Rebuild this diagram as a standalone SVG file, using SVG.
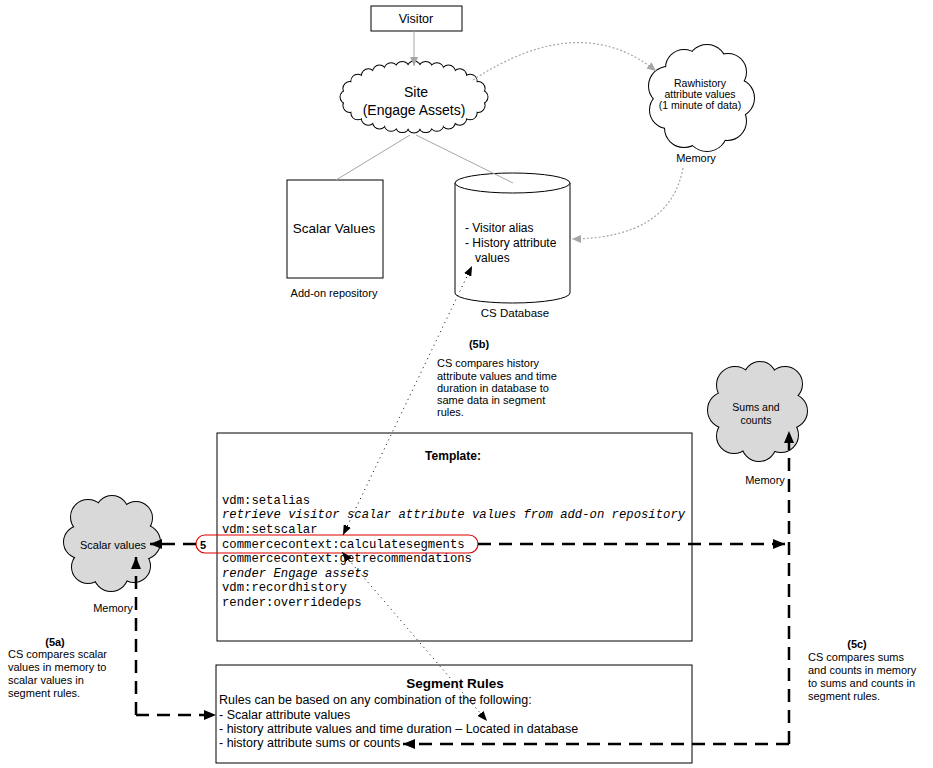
<svg xmlns="http://www.w3.org/2000/svg" xmlns:xlink="http://www.w3.org/1999/xlink" width="933" height="768" viewBox="0 0 933 768">
<style>
.t{font-family:"Liberation Sans",Arial,sans-serif;fill:#000}
.b{font-weight:bold}
.m{text-anchor:middle}
.code{font-family:"Liberation Mono","Courier New",monospace;font-size:12.25px;fill:#000}
.it{font-style:italic}
.box{fill:#fff;stroke:#000;stroke-width:1}
.cs{fill:none;stroke:#000;stroke-width:2}
.cf{fill:#fff;stroke:none}
.cg{fill:#d9d9d9;stroke:none}
.gray{fill:none;stroke:#a6a6a6;stroke-width:1}
.gdot{fill:none;stroke:#a6a6a6;stroke-width:1.2;stroke-dasharray:2 2}
.kdot{fill:none;stroke:#000;stroke-width:1;stroke-dasharray:1 4}
.dash{fill:none;stroke:#000;stroke-width:2.5;stroke-dasharray:13 8}
</style>
<defs>
<marker id="ah" viewBox="0 0 12 10" refX="12" refY="5" markerWidth="12" markerHeight="10" markerUnits="userSpaceOnUse" orient="auto"><path d="M0,0 L12,5 L0,10 z" fill="#000"/></marker>
<marker id="ahd" viewBox="0 0 10 8" refX="10" refY="4" markerWidth="10" markerHeight="8" markerUnits="userSpaceOnUse" orient="auto-start-reverse"><path d="M0,0 L10,4 L0,8 z" fill="#000"/></marker>
<marker id="ahg" viewBox="0 0 9 8" refX="9" refY="4" markerWidth="9" markerHeight="8" markerUnits="userSpaceOnUse" orient="auto"><path d="M0,0 L9,4 L0,8 z" fill="#a6a6a6"/></marker>
<g id="siteShape">
<ellipse cx="414" cy="97" rx="67" ry="29"/>
<circle cx="481" cy="97" r="6.5"/>
<circle cx="478.1" cy="105.5" r="6.5"/><circle cx="470.2" cy="112.8" r="6.5"/><circle cx="459.7" cy="118.2" r="6.5"/><circle cx="448.5" cy="121.9" r="6.5"/><circle cx="436.9" cy="124.3" r="6.5"/><circle cx="425.7" cy="125.6" r="6.5"/>
<circle cx="414" cy="126" r="6.5"/>
<circle cx="402.3" cy="125.6" r="6.5"/><circle cx="391.1" cy="124.3" r="6.5"/><circle cx="379.5" cy="121.9" r="6.5"/><circle cx="368.3" cy="118.2" r="6.5"/><circle cx="357.8" cy="112.8" r="6.5"/><circle cx="349.9" cy="105.5" r="6.5"/>
<circle cx="347" cy="97" r="6.5"/>
<circle cx="349.9" cy="88.5" r="6.5"/><circle cx="357.8" cy="81.2" r="6.5"/><circle cx="368.3" cy="75.8" r="6.5"/><circle cx="379.5" cy="72.1" r="6.5"/><circle cx="391.1" cy="69.7" r="6.5"/><circle cx="402.3" cy="68.4" r="6.5"/>
<circle cx="414" cy="68" r="6.5"/>
<circle cx="425.7" cy="68.4" r="6.5"/><circle cx="436.9" cy="69.7" r="6.5"/><circle cx="448.5" cy="72.1" r="6.5"/><circle cx="459.7" cy="75.8" r="6.5"/><circle cx="470.2" cy="81.2" r="6.5"/><circle cx="478.1" cy="88.5" r="6.5"/>
</g>
<g id="rawShape">
<circle cx="701" cy="98" r="36"/>
<circle cx="735" cy="98" r="19"/><circle cx="727" cy="121" r="19"/><circle cx="707" cy="131" r="20"/><circle cx="684" cy="128" r="19"/><circle cx="668" cy="110" r="18"/><circle cx="668" cy="86" r="19"/><circle cx="684" cy="68" r="18"/><circle cx="707" cy="64" r="19"/><circle cx="728" cy="72" r="18"/>
</g>
<g id="sumsShape">
<circle cx="758" cy="411" r="33"/>
<circle cx="790" cy="411" r="17"/><circle cx="781" cy="435" r="17"/><circle cx="759" cy="444" r="17"/><circle cx="734" cy="436" r="17"/><circle cx="726" cy="410" r="18"/><circle cx="735" cy="385" r="18"/><circle cx="760" cy="378" r="16"/><circle cx="785" cy="384" r="17"/>
</g>
<g id="scalarShape">
<circle cx="112" cy="542" r="32"/>
<circle cx="143" cy="542" r="17"/><circle cx="134" cy="566" r="16"/><circle cx="111" cy="574" r="17"/><circle cx="88" cy="567" r="16"/><circle cx="80" cy="542" r="16"/><circle cx="88" cy="517" r="17"/><circle cx="112" cy="512" r="16"/><circle cx="136" cy="518" r="16"/>
</g>
</defs>
<rect x="0" y="0" width="933" height="768" fill="#fff"/>

<g id="visitor">
<rect class="box" x="371" y="6" width="91" height="25"/>
<text class="t m" x="416" y="22.5" font-size="12.5">Visitor</text>
</g>

<g id="site">
<use href="#siteShape" class="cs"/>
<use href="#siteShape" class="cf"/>
<text class="t m" x="416" y="97" font-size="14">Site</text>
<text class="t m" x="414" y="115" font-size="14">(Engage Assets)</text>
</g>

<g id="rawhistory">
<use href="#rawShape" class="cs"/>
<use href="#rawShape" class="cf"/>
<text class="t m" x="700" y="87" font-size="10.5">Rawhistory</text>
<text class="t m" x="700" y="98" font-size="10.5">attribute values</text>
<text class="t m" x="700" y="109" font-size="10.5">(1 minute of data)</text>
<text class="t m" x="696" y="162" font-size="11">Memory</text>
</g>

<g id="scalarrepo">
<rect class="box" x="287" y="180" width="96" height="98"/>
<text class="t m" x="334" y="233" font-size="13.5">Scalar Values</text>
<text class="t m" x="334" y="297" font-size="11">Add-on repository</text>
</g>

<g id="csdb">
<path class="box" d="M455,183 V293 A57.5,10 0 0 0 570,293 V183"/>
<ellipse class="box" cx="512.5" cy="183" rx="57.5" ry="10"/>
<text class="t" x="465" y="232" font-size="12">- Visitor alias</text>
<text class="t" x="465" y="247" font-size="12">- History attribute</text>
<text class="t" x="475" y="262" font-size="12">values</text>
<text class="t m" x="515" y="317" font-size="11.5">CS Database</text>
</g>

<g id="note5b">
<text class="t b m" x="479" y="348" font-size="11">(5b)</text>
<text class="t" x="437" y="367" font-size="11">CS compares history</text>
<text class="t" x="437" y="380" font-size="11">attribute values and time</text>
<text class="t" x="437" y="392" font-size="11">duration in database to</text>
<text class="t" x="437" y="404" font-size="11">same data in segment</text>
<text class="t" x="437" y="416" font-size="11">rules.</text>
</g>

<g id="sums">
<use href="#sumsShape" class="cs"/>
<use href="#sumsShape" class="cg"/>
<text class="t m" x="756" y="411" font-size="10.5">Sums and</text>
<text class="t m" x="756" y="424" font-size="10.5">counts</text>
<text class="t m" x="765" y="484" font-size="11">Memory</text>
</g>

<g id="scalarmem">
<use href="#scalarShape" class="cs"/>
<use href="#scalarShape" class="cg"/>
<text class="t m" x="113" y="549" font-size="11">Scalar values</text>
<text class="t m" x="113" y="612" font-size="11">Memory</text>
</g>

<g id="note5a">
<text class="t b m" x="55" y="646" font-size="11">(5a)</text>
<text class="t" x="8" y="658" font-size="11">CS compares scalar</text>
<text class="t" x="8" y="671" font-size="11">values in memory to</text>
<text class="t" x="8" y="684" font-size="11">scalar values in</text>
<text class="t" x="8" y="697" font-size="11">segment rules.</text>
</g>

<g id="note5c">
<text class="t b m" x="857" y="648" font-size="11">(5c)</text>
<text class="t" x="808" y="661" font-size="11">CS compares sums</text>
<text class="t" x="808" y="674" font-size="11">and counts in memory</text>
<text class="t" x="808" y="687" font-size="11">to sums and counts in</text>
<text class="t" x="808" y="700" font-size="11">segment rules.</text>
</g>

<g id="template">
<rect class="box" x="217" y="433" width="475" height="208"/>
<text class="t b m" x="453" y="460" font-size="12">Template:</text>
<text class="code" x="222" y="504">vdm:setalias</text>
<text class="code it" x="222" y="518">retrieve visitor scalar attribute values from add-on repository</text>
<text class="code" x="222" y="533">vdm:setscalar</text>
<text class="code" x="222" y="548">commercecontext:calculatesegments</text>
<text class="code" x="222" y="562">commercecontext:getrecommendations</text>
<text class="code it" x="222" y="577">render Engage assets</text>
<text class="code" x="222" y="591">vdm:recordhistory</text>
<text class="code" x="222" y="606">render:overridedeps</text>
<rect x="196" y="535" width="282" height="18" rx="9" ry="9" fill="none" stroke="#e00000" stroke-width="1.2"/>
<text class="t b" x="200" y="549" font-size="11">5</text>
</g>

<g id="segmentrules">
<rect class="box" x="216" y="665" width="476" height="98"/>
<text class="t b m" x="455" y="688" font-size="13.5">Segment Rules</text>
<text class="t" x="219" y="704" font-size="12.5">Rules can be based on any combination of the following:</text>
<text class="t" x="219" y="718.5" font-size="12.5">- Scalar attribute values</text>
<text class="t" x="219" y="733" font-size="12.5">- history attribute values and time duration  – Located in database</text>
<text class="t" x="219" y="747" font-size="12.5">- history attribute sums or counts</text>
</g>

<g id="connectors">
<line class="gray" x1="414" y1="31" x2="414" y2="66" marker-end="url(#ahg)"/>
<line class="gray" x1="410" y1="135" x2="336" y2="180"/>
<line class="gray" x1="416" y1="135" x2="513" y2="183"/>
<path class="gdot" d="M473,80 Q580,10 656,71" marker-end="url(#ahg)"/>
<path class="gdot" d="M683,168 Q670,238 572,239" marker-end="url(#ahg)"/>
<line class="kdot" x1="343" y1="535" x2="472" y2="266" marker-start="url(#ahd)" marker-end="url(#ahd)"/>
<line class="kdot" x1="342" y1="552" x2="487" y2="721" marker-start="url(#ahd)" marker-end="url(#ahd)"/>
<path class="dash" d="M196,544 H150" marker-end="url(#ah)"/>
<path class="dash" d="M478,544 H785" marker-end="url(#ah)"/>
<path class="dash" d="M136,715 V557" marker-end="url(#ah)"/>
<path class="dash" d="M136,715 H216" marker-end="url(#ah)"/>
<path class="dash" d="M789,744 V431" marker-end="url(#ah)"/>
<path class="dash" d="M789,744 H403" marker-end="url(#ah)"/>
</g>
</svg>
